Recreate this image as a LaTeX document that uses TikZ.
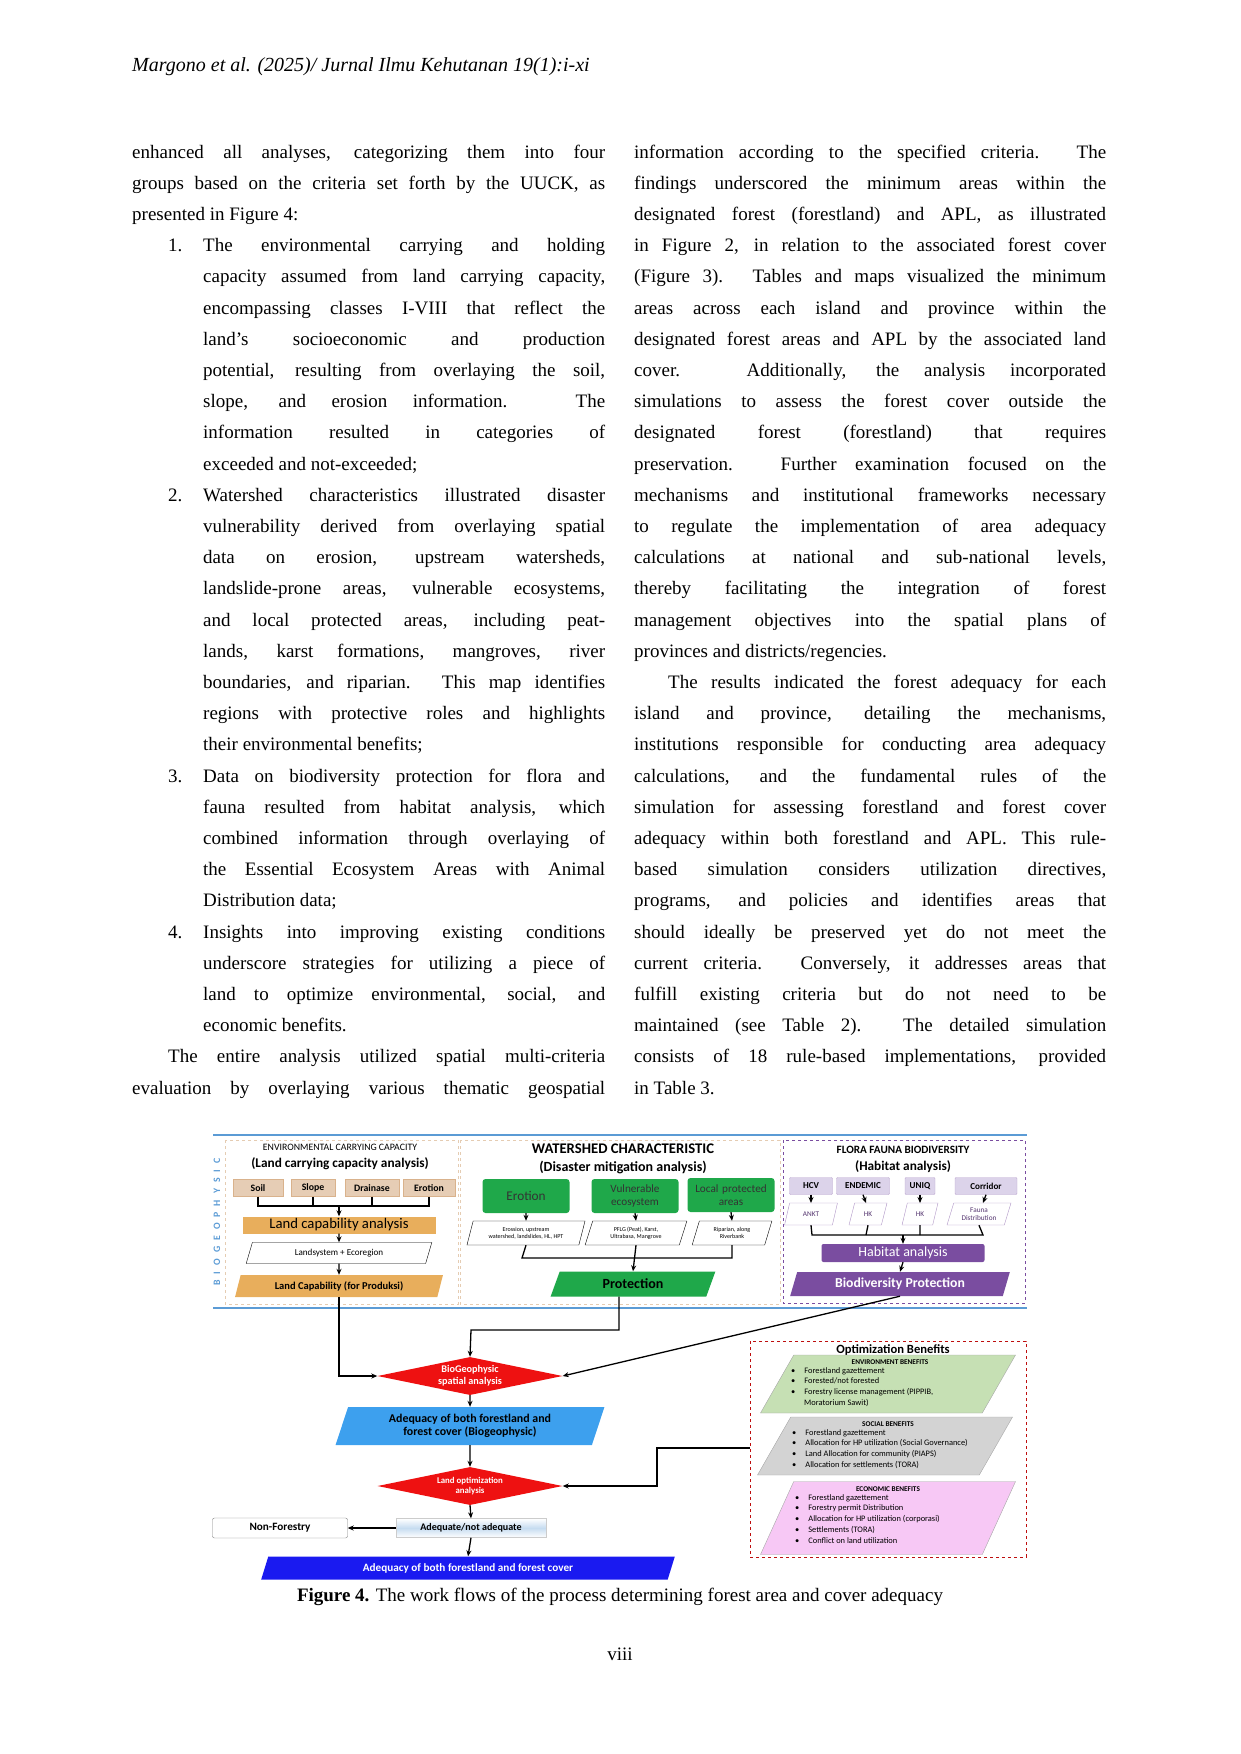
\documentclass[tikz,border=0pt]{standalone}
\usepackage{fontspec}
\setmainfont{Liberation Serif}
\newfontfamily\ff{Carlito}
\usetikzlibrary{shapes.geometric,arrows.meta}
\definecolor{beige}{HTML}{E6CDB5}
\definecolor{orng}{HTML}{E8AE5C}
\definecolor{grn}{HTML}{1FA84A}
\definecolor{lav}{HTML}{DCD3EA}
\definecolor{purp}{HTML}{7A4DA0}
\definecolor{redd}{HTML}{EE1111}
\definecolor{lblue}{HTML}{3DA0EE}
\definecolor{dblue}{HTML}{1A1AF0}
\definecolor{pblue}{HTML}{5B9BD5}
\definecolor{ogreen}{HTML}{C6E0B4}
\definecolor{ogrey}{HTML}{D3D3D3}
\definecolor{opink}{HTML}{F7C8F5}
\newcounter{ln}
\newcommand\bodyfs{\fontsize{19}{22}\selectfont}
\newcommand\JL[4]{\stepcounter{ln}\node[txt] (t\theln) at (#1,{158+31.2*#2}) {\makebox[#3pt][s]{#4}};}
\newcommand\LL[3]{\stepcounter{ln}\node[txt] (t\theln) at (#1,{158+31.2*#2}) {#3};}
\newcommand\fs[1]{\fontsize{\fpeval{1.4*#1}}{\fpeval{1.6*#1}}\selectfont}
\begin{document}
\begin{tikzpicture}[x=1pt,y=-1pt,
 txt/.style={anchor=base west,inner sep=0,font=\bodyfs},
 fig/.style={inner sep=1pt,align=center,font=\ff},
 pg/.style={fig,trapezium,trapezium left angle=72,trapezium right angle=108,trapezium stretches=true,draw},
 rbox/.style={fig,draw,rounded corners=2pt},
 dia/.style={fig,diamond,fill=redd,text=white,inner sep=0,aspect=5,minimum width=185pt,minimum height=38pt},
 ar/.style={-{Stealth[length=6pt,width=5pt]},line width=1.3pt},
 ln/.style={line width=1.3pt},
 panel/.style={draw,dashed,line width=0.6pt}]
\useasboundingbox (0,0) rectangle (1240,1754);
% header
\node[anchor=base west,inner sep=0,font=\fontsize{20}{22}\selectfont\itshape] (hdr) at (132,71) {Margono et al. (2025)/ Jurnal Ilmu Kehutanan 19(1):i-xi};
% left column
\JL{132}{0}{473}{enhanced all analyses, categorizing them into four}
\JL{132}{1}{473}{groups based on the criteria set forth by the UUCK, as}
\LL{132}{2}{presented in Figure 4:}
\LL{168}{3}{1.}
\JL{203}{3}{402}{The environmental carrying and holding}
\JL{203}{4}{402}{capacity assumed from land carrying capacity,}
\JL{203}{5}{402}{encompassing classes I-VIII that reflect the}
\JL{203}{6}{402}{land's socioeconomic and production}
\JL{203}{7}{402}{potential, resulting from overlaying the soil,}
\JL{203}{8}{402}{slope, and erosion information. The}
\JL{203}{9}{402}{information resulted in categories of}
\LL{203}{10}{exceeded and not-exceeded;}
\LL{168}{11}{2.}
\JL{203}{11}{402}{Watershed characteristics illustrated disaster}
\JL{203}{12}{402}{vulnerability derived from overlaying spatial}
\JL{203}{13}{402}{data on erosion, upstream watersheds,}
\JL{203}{14}{402}{landslide-prone areas, vulnerable ecosystems,}
\JL{203}{15}{402}{and local protected areas, including peat-}
\JL{203}{16}{402}{lands, karst formations, mangroves, river}
\JL{203}{17}{402}{boundaries, and riparian. This map identifies}
\JL{203}{18}{402}{regions with protective roles and highlights}
\LL{203}{19}{their environmental benefits;}
\LL{168}{20}{3.}
\JL{203}{20}{402}{Data on biodiversity protection for flora and}
\JL{203}{21}{402}{fauna resulted from habitat analysis, which}
\JL{203}{22}{402}{combined information through overlaying of}
\JL{203}{23}{402}{the Essential Ecosystem Areas with Animal}
\LL{203}{24}{Distribution data;}
\LL{168}{25}{4.}
\JL{203}{25}{402}{Insights into improving existing conditions}
\JL{203}{26}{402}{underscore strategies for utilizing a piece of}
\JL{203}{27}{402}{land to optimize environmental, social, and}
\LL{203}{28}{economic benefits.}
\JL{168}{29}{437}{The entire analysis utilized spatial multi-criteria}
\JL{132}{30}{473}{evaluation by overlaying various thematic geospatial}
% right column
\JL{634}{0}{472}{information according to the specified criteria. The}
\JL{634}{1}{472}{findings underscored the minimum areas within the}
\JL{634}{2}{472}{designated forest (forestland) and APL, as illustrated}
\JL{634}{3}{472}{in Figure 2, in relation to the associated forest cover}
\JL{634}{4}{472}{(Figure 3). Tables and maps visualized the minimum}
\JL{634}{5}{472}{areas across each island and province within the}
\JL{634}{6}{472}{designated forest areas and APL by the associated land}
\JL{634}{7}{472}{cover. Additionally, the analysis incorporated}
\JL{634}{8}{472}{simulations to assess the forest cover outside the}
\JL{634}{9}{472}{designated forest (forestland) that requires}
\JL{634}{10}{472}{preservation. Further examination focused on the}
\JL{634}{11}{472}{mechanisms and institutional frameworks necessary}
\JL{634}{12}{472}{to regulate the implementation of area adequacy}
\JL{634}{13}{472}{calculations at national and sub-national levels,}
\JL{634}{14}{472}{thereby facilitating the integration of forest}
\JL{634}{15}{472}{management objectives into the spatial plans of}
\LL{634}{16}{provinces and districts/regencies.}
\JL{668}{17}{438}{The results indicated the forest adequacy for each}
\JL{634}{18}{472}{island and province, detailing the mechanisms,}
\JL{634}{19}{472}{institutions responsible for conducting area adequacy}
\JL{634}{20}{472}{calculations, and the fundamental rules of the}
\JL{634}{21}{472}{simulation for assessing forestland and forest cover}
\JL{634}{22}{472}{adequacy within both forestland and APL. This rule-}
\JL{634}{23}{472}{based simulation considers utilization directives,}
\JL{634}{24}{472}{programs, and policies and identifies areas that}
\JL{634}{25}{472}{should ideally be preserved yet do not meet the}
\JL{634}{26}{472}{current criteria. Conversely, it addresses areas that}
\JL{634}{27}{472}{fulfill existing criteria but do not need to be}
\JL{634}{28}{472}{maintained (see Table 2). The detailed simulation}
\JL{634}{29}{472}{consists of 18 rule-based implementations, provided}
\LL{634}{30}{in Table 3.}
% ===== FIGURE =====
\draw[pblue,line width=1.5pt] (213,1135) -- (1027,1135);
\draw[pblue,line width=1.5pt] (213,1308) -- (1027,1308);
\draw[panel,draw=brown!40] (225,1140) rectangle (458,1304);
\draw[panel,draw=brown!40] (460,1140) rectangle (780,1304);
\draw[panel,draw=purp,line width=0.9pt] (783,1140) rectangle (1025,1303);
\node[fig,rotate=90,text=pblue,font=\ff\bfseries\fs{7}] (bio) at (217,1222) {B\hspace{6pt}I\hspace{6pt}O\hspace{6pt}G\hspace{6pt}E\hspace{6pt}O\hspace{6pt}P\hspace{6pt}H\hspace{6pt}Y\hspace{6pt}S\hspace{6pt}I\hspace{6pt}C};
% ECC
\node[fig,font=\ff\fs{7}] (ecct) at (340,1147) {ENVIRONMENTAL CARRYING CAPACITY};
\node[fig,font=\ff\bfseries\fs{9.5}] (eccs) at (340,1164) {(Land carrying capacity analysis)};
\tikzset{bb/.style={fig,draw=brown!60,fill=beige,font=\ff\bfseries\fs{7},minimum height=17pt}}
\node[bb,minimum width=50pt] (soil) at (258,1188) {Soil};
\node[bb,minimum width=44pt] (slope) at (313,1188) {Slope};
\node[bb,minimum width=54pt] (drain) at (372,1188) {Drainase};
\node[bb,minimum width=52pt] (ero1) at (429,1188) {Erotion};
\node[fig,fill=orng,minimum width=193pt,minimum height=17pt,font=\ff\fs{10.5}] (lca) at (339,1225) {Land capability analysis};
\node[pg,fill=white,minimum width=186pt,minimum height=21pt,font=\ff\fs{6.5}] (lse) at (339,1253) {Landsystem + Ecoregion};
\node[pg,draw=none,fill=orng,minimum width=208pt,minimum height=22pt,font=\ff\bfseries\fs{7.5}] (lcap) at (339,1286) {Land Capability (for Produksi)};
\draw[ln] (soil.south) -- (258,1206) -- (429,1206) -- (ero1.south);
\draw[ln] (slope.south) -- (313,1206);
\draw[ln] (drain.south) -- (372,1206);
\draw[ar] (339,1206) -- (lca.north);
\draw[ar] (lca.south) -- (lse.north);
\draw[ar] (lse.south) -- (lcap.north);
% Watershed
\node[fig,font=\ff\bfseries\fs{10.5}] (wct) at (623,1149) {WATERSHED CHARACTERISTIC};
\node[fig,font=\ff\bfseries\fs{10}] (wcs) at (623,1167) {(Disaster mitigation analysis)};
\tikzset{gb/.style={fig,fill=grn,rounded corners=3pt,minimum width=87pt,minimum height=34pt,text width=84pt,font=\ff\fs{8},text=black!80}}
\node[gb,font=\ff\fs{9.5}] (ero2) at (526,1196) {Erotion};
\node[gb] (vul) at (635,1196) {Vulnerable\\ecosystem};
\node[gb] (lpa) at (731,1195) {Local protected\\areas};
\tikzset{sp/.style={pg,fill=white,minimum height=24pt,font=\ff\fs{4.3}}}
\node[sp,minimum width=119pt] (p1) at (526,1233) {Erossion, upstream\\watershed, landslides, HL, HPT};
\node[sp,minimum width=102pt] (p2) at (636,1233) {PFLG (Peat), Karst,\\Ultrabasa, Mangrove};
\node[sp,minimum width=80pt] (p3) at (732,1233) {Riparian, along\\Riverbank};
\draw[ar] (ero2.south) -- (p1.north);
\draw[ar] (vul.south) -- (p2.north);
\draw[ar] (lpa.south) -- (p3.north);
\node[pg,draw=none,fill=grn,minimum width=165pt,minimum height=25pt,font=\ff\bfseries\fs{10}] (prot) at (633,1284) {Protection};
\draw[ln] (p1.south) -- (522,1258) -- (732,1258) -- (p3.south);
\draw[ar] (p2.south) -- (prot.north);
% Flora fauna
\node[fig,font=\ff\bfseries\fs{8}] (fft) at (903,1150) {FLORA FAUNA BIODIVERSITY};
\node[fig,font=\ff\bfseries\fs{9.5}] (ffs) at (903,1167) {(Habitat analysis)};
\tikzset{lb/.style={fig,draw=purp!50,fill=lav,rounded corners=1pt,minimum height=17pt,font=\ff\bfseries\fs{6.5}}}
\node[lb,minimum width=43pt] (hcv) at (811,1186) {HCV};
\node[lb,minimum width=53pt] (end) at (863,1186) {ENDEMIC};
\node[lb,minimum width=30pt] (uniq) at (920,1186) {UNIQ};
\node[lb,minimum width=62pt] (corr) at (986,1186) {Corridor};
\tikzset{fp/.style={pg,draw=purp!60,fill=white,minimum height=22pt,font=\ff\fs{5.2},text=purp!70!black}}
\node[fp,minimum width=53pt] (ankt) at (811,1214) {ANKT};
\node[fp,minimum width=38pt] (hk1) at (868,1214) {HK};
\node[fp,minimum width=36pt] (hk2) at (920,1214) {HK};
\node[fp,minimum width=64pt] (fdist) at (979,1214) {Fauna\\Distribution};
\draw[ar] (hcv.south) -- (811,1203);
\draw[ar] (end.south) -- (866,1203);
\draw[ar] (uniq.south) -- (920,1203);
\draw[ar] (corr.south) -- (983,1203);
\node[fig,fill=purp,rounded corners=2pt,minimum width=163pt,minimum height=18pt,text=white,font=\ff\fs{10}] (hab) at (903,1253) {Habitat analysis};
\node[pg,draw=none,fill=purp,minimum width=220pt,minimum height=24pt,text=white,font=\ff\bfseries\fs{9.8}] (biop) at (900,1284) {Biodiversity Protection};
\draw[ln] (ankt.south) -- (812,1235) -- (983,1235) -- (fdist.south);
\draw[ln] (hk1.south) -- (866,1235);
\draw[ln] (hk2.south) -- (920,1235);
\draw[ar] (903,1235) -- (hab.north);
\draw[ar] (hab.south) -- (biop.north);
% lower flow
\node[dia,font=\ff\bfseries\fs{7.3}] (bgs) at (470,1376) {BioGeophysic\\spatial analysis};
\node[pg,draw=none,fill=lblue,minimum width=269pt,minimum height=38pt,font=\ff\bfseries\fs{8.5}] (adq1) at (470,1426) {Adequacy of both forestland and\\forest cover (Biogeophysic)};
\node[dia,font=\ff\bfseries\fs{6.3}] (loa) at (470,1486) {Land optimization\\analysis};
\node[fig,draw=gray!40,top color=white,bottom color=white,middle color=pblue!35,minimum width=150pt,minimum height=19pt,font=\ff\bfseries\fs{7.2}] (adn) at (471,1528) {Adequate/not adequate};
\node[rbox,draw=gray,minimum width=135pt,minimum height=20pt,font=\ff\bfseries\fs{8}] (nonf) at (280,1528) {Non-Forestry};
\node[pg,draw=none,fill=dblue,minimum width=414pt,minimum height=23pt,text=white,font=\ff\bfseries\fs{8}] (adq2) at (468,1568) {Adequacy of both forestland and forest cover};
\draw[ar] (lcap.south) |- (bgs.west);
\draw[ar] (prot.south -| 619,1308) |- (471,1330) -- (bgs.north);
\draw[ar] (biop.south) -- (bgs.east);
\draw[ar] (bgs.south) -- (adq1.north);
\draw[ar] (adq1.south) -- (loa.north);
\draw[ar] (loa.south) -- (adn.north);
\draw[ar] (adn.west) -- (nonf.east);
\draw[ar] (adn.south) -- (adq2.north);
% optimization benefits
\draw[draw=redd!80!black,dashed,line width=1pt] (750,1341) rectangle (1026,1557);
\coordinate (optl) at (750,1448);
\draw[ar] (optl) -- (657,1448) -- (657,1486) -- (loa.east);
\node[fig,font=\ff\bfseries\fs{9}] (optt) at (893,1350) {Optimization Benefits};
\tikzset{ob/.style={pg,draw=gray!70,minimum width=255pt,trapezium left angle=80,trapezium right angle=100},
 obh/.style={fig,font=\ff\bfseries\fs{5.2}},
 obl/.style={anchor=north west,inner sep=0,align=left,font=\ff\fontsize{8.4}{10.8}\selectfont}}
\node[ob,fill=ogreen,minimum height=58pt] (envb) at (888,1384) {};
\node[obh] (envh) at (890,1362) {ENVIRONMENT BENEFITS};
\node[obl] (envl) at (791,1367) {\textbullet\hspace{9pt}Forestland gazettement\\\textbullet\hspace{9pt}Forested/not forested\\\textbullet\hspace{9pt}Forestry license management (PIPPIB,\\\hspace{13pt}Moratorium Sawit)};
\node[ob,fill=ogrey,minimum height=58pt] (socb) at (885,1446) {};
\node[obh] (soch) at (888,1424) {SOCIAL BENEFITS};
\node[obl] (socl) at (792,1429) {\textbullet\hspace{9pt}Forestland gazettement\\\textbullet\hspace{9pt}Allocation for HP utilization (Social Governance)\\\textbullet\hspace{9pt}Land Allocation for community (PIAPS)\\\textbullet\hspace{9pt}Allocation for settlements (TORA)};
\node[ob,fill=opink,minimum height=73pt] (ecob) at (888,1518) {};
\node[obh] (ecoh) at (888,1489) {ECONOMIC BENEFITS};
\node[obl] (ecol) at (795,1494) {\textbullet\hspace{9pt}Forestland gazettement\\\textbullet\hspace{9pt}Forestry permit Distribution\\\textbullet\hspace{9pt}Allocation for HP utilization (corporasi)\\\textbullet\hspace{9pt}Settlements (TORA)\\\textbullet\hspace{9pt}Conflict on land utilization};
% caption & page number
\node[inner sep=0,font=\bodyfs] (cap) at (620,1597) {\textbf{Figure 4.} The work flows of the process determining forest area and cover adequacy};
\node[inner sep=0,font=\bodyfs] (pnum) at (620,1654) {viii};
\end{tikzpicture}
\end{document}
